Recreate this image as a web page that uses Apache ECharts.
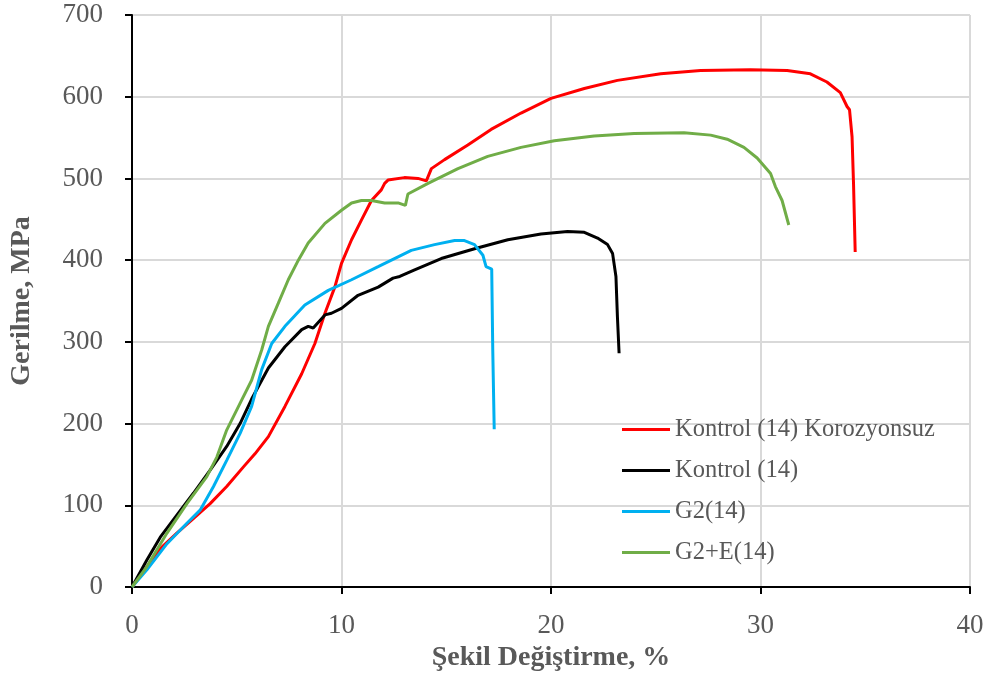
<!DOCTYPE html>
<html><head><meta charset="utf-8">
<script src="https://cdn.jsdelivr.net/npm/echarts@6/dist/echarts.min.js"></script>
<style>html,body{margin:0;padding:0;background:#fff}#c{width:990px;height:683px}</style>
</head><body><div id="c"></div>
<script>
const seriesNames = ['Kontrol (14) Korozyonsuz', 'Kontrol (14)', 'G2(14)', 'G2+E(14)'];
const xTicks = [0, 10, 20, 30, 40];
const yTicks = [0, 100, 200, 300, 400, 500, 600, 700];

const redStrain = [0, 1.35, 2.14, 2.94, 3.73, 4.52, 5.32, 5.87, 6.51, 7.3, 8.1, 8.73, 9.21, 9.68, 10.0, 10.48, 10.95, 11.43, 11.9, 12.06, 12.22, 13.0, 13.65, 14.05, 14.29, 14.92, 16.03, 17.14, 18.57, 20.0, 21.59, 23.17, 25.24, 27.14, 29.52, 31.27, 32.38, 33.17, 33.81, 34.13, 34.25, 34.37, 34.44, 34.52];
const redStress = [0, 47, 66, 84, 102, 123, 147, 163, 184, 221, 261, 298, 335, 367, 396, 425, 449, 473, 486, 494, 498, 501, 500, 497, 512, 523, 541, 560, 580, 598, 610, 620, 628, 632, 633, 632, 628, 618, 605, 588, 584, 551, 494, 410];

const blackStrain = [0, 0.71, 1.35, 2.14, 2.94, 3.73, 4.52, 5.16, 5.71, 6.51, 7.3, 8.1, 8.41, 8.65, 9.21, 9.52, 10.0, 10.79, 11.75, 12.46, 12.78, 13.49, 14.76, 16.35, 17.94, 19.52, 20.79, 21.59, 22.22, 22.7, 22.94, 23.1, 23.17, 23.25];
const blackStress = [0, 33, 61, 88, 115, 143, 172, 200, 230, 268, 294, 315, 319, 317, 333, 335, 341, 357, 367, 378, 380, 388, 402, 414, 425, 432, 435, 434, 427, 419, 408, 380, 331, 286];

const blueStrain = [0, 0.71, 1.67, 2.62, 3.25, 3.89, 4.52, 5.16, 5.71, 6.19, 6.67, 7.3, 8.25, 9.37, 10.48, 11.75, 12.7, 13.33, 14.44, 15.4, 15.87, 16.35, 16.75, 16.9, 17.17, 17.22, 17.29];
const blueStress = [0, 21, 53, 78, 94, 123, 155, 188, 221, 266, 298, 319, 345, 363, 376, 392, 404, 412, 419, 424, 424, 419, 406, 392, 389, 290, 193];

const greenStrain = [0, 0.71, 1.67, 2.62, 3.57, 4.05, 4.52, 5.24, 5.71, 6.19, 6.51, 6.98, 7.46, 7.94, 8.41, 9.21, 10.0, 10.48, 10.95, 11.43, 12.06, 12.7, 13.05, 13.17, 14.13, 15.56, 16.98, 18.57, 20.16, 22.06, 23.97, 26.35, 27.62, 28.41, 29.21, 29.84, 30.48, 30.71, 31.03, 31.35];
const greenStress = [0, 25, 66, 102, 135, 159, 192, 229, 253, 290, 319, 347, 376, 400, 421, 445, 461, 470, 473, 473, 470, 470, 467, 481, 494, 512, 527, 538, 546, 552, 555, 556, 553, 548, 538, 525, 506, 490, 473, 443];

const colors = ['#ff0000', '#000000', '#00b0f0', '#70ad47'];
const strains = [redStrain, blackStrain, blueStrain, greenStrain];
const stresses = [redStress, blackStress, blueStress, greenStress];

const chart = echarts.init(document.getElementById('c'));
const font = '"Liberation Serif", "Times New Roman", serif';
chart.setOption({
  animation: false,
  textStyle: { fontFamily: font },
  grid: { left: 130, right: 20, top: 15, bottom: 96 },
  legend: {
    orient: 'vertical', left: 617, top: 412, itemGap: 16, itemWidth: 48, itemHeight: 3,
    icon: 'rect', textStyle: { fontFamily: font, fontSize: 24.5, color: '#595959' },
    data: seriesNames
  },
  xAxis: {
    type: 'value', min: xTicks[0], max: xTicks[xTicks.length - 1], interval: 10,
    name: 'Şekil Değiştirme, %', nameLocation: 'middle', nameGap: 50,
    nameTextStyle: { fontFamily: font, fontSize: 28, fontWeight: 'bold', color: '#595959' },
    axisLine: { lineStyle: { color: '#000', width: 2 } },
    axisTick: { show: true, length: 7, lineStyle: { color: '#000', width: 2 } },
    axisLabel: { fontFamily: font, fontSize: 27, color: '#595959', margin: 25 },
    splitLine: { show: true, lineStyle: { color: '#d9d9d9', width: 2 } }
  },
  yAxis: {
    type: 'value', min: yTicks[0], max: yTicks[yTicks.length - 1], interval: 100,
    name: 'Gerilme, MPa', nameLocation: 'middle', nameGap: 96,
    nameTextStyle: { fontFamily: font, fontSize: 28, fontWeight: 'bold', color: '#595959' },
    axisLine: { show: true, lineStyle: { color: '#000', width: 2 } },
    axisTick: { show: true, length: 7, lineStyle: { color: '#000', width: 2 } },
    axisLabel: { fontFamily: font, fontSize: 27, color: '#595959', margin: 29 },
    splitLine: { show: true, lineStyle: { color: '#d9d9d9', width: 2 } }
  },
  series: seriesNames.map((n, i) => ({
    name: n, type: 'line', showSymbol: false, symbol: 'none',
    color: colors[i],
    lineStyle: { width: 3, color: colors[i] },
    data: strains[i].map((x, j) => [x, stresses[i][j]])
  }))
});
</script></body></html>
